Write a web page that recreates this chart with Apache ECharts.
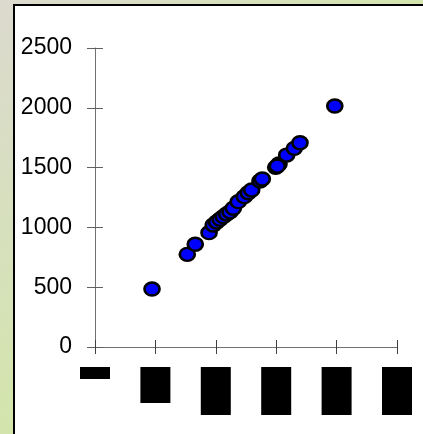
<!DOCTYPE html>
<html>
<head>
<meta charset="utf-8">
<script src="https://cdn.jsdelivr.net/npm/echarts@6/dist/echarts.min.js"></script>
<style>
  html, body { margin: 0; padding: 0; width: 423px; height: 434px; overflow: hidden; }
  body { background: linear-gradient(135deg, #dcdacf 0%, #d6e2b8 35%, #d2e7a6 60%, #d2e7a6 100%); position: relative; }
  #panel { position: absolute; left: 13px; top: 4px; width: 600px; height: 600px; background: #fff; border-left: 2px solid #000; border-top: 2px solid #000; }
  #chart { position: absolute; left: 0; top: 0; width: 423px; height: 434px; }
</style>
</head>
<body>
<div id="panel"></div>
<div id="chart"></div>
<script>
// Data
var xValues = [472, 764, 830, 944, 979, 1007, 1035, 1062, 1090, 1118, 1145, 1186, 1236, 1269, 1297, 1366, 1385, 1496, 1523, 1509, 1587, 1650, 1697, 1985];
var yValues = [485, 775, 859, 956, 1020, 1045, 1068, 1090, 1112, 1131, 1160, 1215, 1257, 1290, 1313, 1388, 1405, 1502, 1530, 1513, 1605, 1661, 1708, 2015];
var xTicks = [0, 500, 1000, 1500, 2000, 2500];
var yTicks = [0, 500, 1000, 1500, 2000, 2500];

var points = xValues.map(function (x, i) { return [x, yValues[i]]; });

var axisColor = '#707070';
var chart = echarts.init(document.getElementById('chart'), null, { renderer: 'canvas' });
chart.setOption({
  animation: false,
  backgroundColor: 'transparent',
  grid: { left: 95, right: 26, top: 48, bottom: 87, containLabel: false },
  xAxis: [{
    type: 'value', min: xTicks[0], max: xTicks[xTicks.length - 1], interval: 500,
    splitLine: { show: false },
    axisLine: { show: true, onZero: false, lineStyle: { color: axisColor, width: 1 } },
    axisTick: { show: true, inside: false, length: 7, lineStyle: { color: '#404040' } },
    axisLabel: {
      show: true, rotate: 90, margin: 20,
      fontFamily: 'Liberation Sans, Arial, sans-serif', fontSize: 21.6,
      color: '#000', backgroundColor: '#000', lineHeight: 30, padding: 0,
      formatter: function (v) { return String(v); }
    }
  }, {
    type: 'value', min: xTicks[0], max: xTicks[xTicks.length - 1], interval: 500,
    position: 'bottom',
    splitLine: { show: false },
    axisLine: { show: false },
    axisTick: { show: true, inside: true, length: 7, lineStyle: { color: '#404040' } },
    axisLabel: { show: false }
  }],
  yAxis: [{
    type: 'value', min: yTicks[0], max: yTicks[yTicks.length - 1], interval: 500,
    splitLine: { show: false },
    axisLine: { show: true, onZero: false, lineStyle: { color: axisColor, width: 1 } },
    axisTick: { show: true, inside: false, length: 8, lineStyle: { color: '#606060' } },
    axisLabel: {
      show: true, margin: 23,
      fontFamily: 'Liberation Sans, Arial, sans-serif', fontSize: 23, color: '#000',
      formatter: function (v) { return String(v); }
    }
  }, {
    type: 'value', min: yTicks[0], max: yTicks[yTicks.length - 1], interval: 500,
    position: 'left',
    splitLine: { show: false },
    axisLine: { show: false },
    axisTick: { show: true, inside: true, length: 8, lineStyle: { color: '#606060' } },
    axisLabel: { show: false }
  }],
  series: [{
    type: 'scatter',
    xAxisIndex: 0, yAxisIndex: 0,
    data: points,
    symbol: 'circle',
    symbolSize: [15, 13],
    itemStyle: { color: '#0000ff', borderColor: '#000', borderWidth: 2.5, opacity: 1 }
  }]
});
</script>
</body>
</html>
